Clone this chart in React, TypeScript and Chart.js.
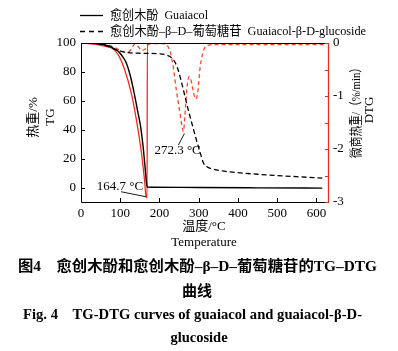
import React, { useEffect, useRef } from "react";
import { Chart, registerables } from "chart.js";

Chart.register(...registerables);

// TG of guaiacol (%)
const tempTgGuaiacol = [0, 30, 50, 70, 85, 95, 105, 115, 125, 135, 145, 152, 158, 163, 167, 169, 180, 300, 450, 615];
const tgGuaiacol = [100, 99.9, 99.3, 98, 96, 94.3, 91, 86.5, 78, 66, 52, 42, 29, 15, 3, 0.3, 0.2, 0, -0.2, -0.4];

// TG of guaiacol-β-D-glucoside (%)
const tempTgGlucoside = [0, 30, 50, 70, 85, 100, 120, 150, 200, 220, 232, 240, 248, 256, 265, 275, 285, 295, 305, 312, 320, 335, 360, 400, 450, 500, 550, 615];
const tgGlucoside = [100, 99.8, 99, 97.5, 95.8, 94.3, 93.3, 92.9, 92.5, 91.5, 89.5, 86.5, 81, 73, 63, 52, 42, 32, 23, 17, 14.5, 12.8, 11.5, 10.3, 9.2, 8.3, 7.5, 6.5];

// DTG of guaiacol (%/min)
const tempDtgGuaiacol = [0, 20, 40, 60, 77, 94, 111, 128, 141, 154, 162, 165, 168.5, 169, 250, 400, 615];
const dtgGuaiacol = [0, -0.01, -0.03, -0.06, -0.09, -0.21, -0.5, -0.94, -1.44, -2.07, -2.6, -2.85, -2.92, 0, 0, 0, 0];

// DTG of guaiacol-β-D-glucoside (%/min)
const tempDtgGlucoside = [0, 40, 70, 90, 105, 118, 128, 137, 145, 155, 163, 172, 185, 200, 215, 222, 228, 235, 243, 251, 257, 261, 265, 270, 276, 281, 287, 293, 298, 303, 310, 320, 340, 400, 500, 625];
const dtgGlucoside = [0, -0.01, -0.04, -0.1, -0.16, -0.18, -0.12, -0.02, -0.06, -0.14, -0.12, -0.03, -0.01, -0.01, -0.02, -0.07, -0.18, -0.45, -0.89, -1.26, -1.55, -1.67, -1.35, -0.85, -0.63, -0.72, -0.95, -1.06, -0.9, -0.5, -0.2, -0.05, -0.03, -0.03, -0.03, -0.03];

const xTicks = [0, 100, 200, 300, 400, 500, 600];
const tgTicks = [0, 20, 40, 60, 80, 100];
const dtgTicks = [0, -1, -2, -3];
const dtgMinorTicks = [-0.5, -1.5, -2.5];

const legendLabels = ["愈创木酚  Guaiacol", "愈创木酚–β–D–葡萄糖苷  Guaiacol-β-D-glucoside"];
const peakLabels = ["164.7 °C", "272.3 °C"];
const leftTitle = ["热重/%", "TG"];
const rightTitle = ["微商热重/（%/min）", "DTG"];
const bottomTitle = ["温度/°C", "Temperature"];
const captionLines = [
  "图4　愈创木酚和愈创木酚–β–D–葡萄糖苷的TG–DTG",
  "曲线",
  "Fig. 4　TG-DTG curves of guaiacol and guaiacol-β-D-",
  "glucoside",
];

const SERIF = '"Liberation Serif", "Times New Roman", "Noto Sans CJK SC", serif';
const RED = "#ee2b22";
const RED_D = "#f0492c";

const pts = (xs: number[], ys: number[]) => xs.map((x, i) => ({ x, y: ys[i] }));

const minPoint = (xs: number[], ys: number[]) => {
  let k = 0;
  ys.forEach((v, i) => {
    if (v < ys[k]) k = i;
  });
  return { x: xs[k], y: ys[k] };
};

// draw text at a given size, squeezed/stretched horizontally to span `width`
// (left-aligned at x, or centred if centre=true); optional rotation -90°
const fillFit = (
  ctx: any,
  text: string,
  x: number,
  y: number,
  width: number,
  size: number,
  weight = "",
  centre = false,
  rotate = false
) => {
  ctx.save();
  ctx.font = `${weight} ${size}px ${SERIF}`;
  const w = ctx.measureText(text).width;
  const k = width / w;
  ctx.translate(x, y);
  if (rotate) ctx.rotate(-Math.PI / 2);
  ctx.scale(k, 1);
  ctx.textAlign = centre ? "center" : "left";
  ctx.fillText(text, 0, 0);
  ctx.restore();
};

const overlay = {
  id: "overlay",
  afterDraw(chart: any) {
    const { ctx, chartArea: a, scales } = chart;
    const sx = scales.x;
    const sy = scales.y;
    const sy1 = scales.y1;
    ctx.save();

    // frame
    ctx.lineWidth = 1;
    ctx.strokeStyle = "#000";
    ctx.beginPath();
    ctx.moveTo(a.right, a.top + 0.5);
    ctx.lineTo(a.left + 0.5, a.top + 0.5);
    ctx.lineTo(a.left + 0.5, a.bottom + 0.5);
    ctx.lineTo(a.right, a.bottom + 0.5);
    ctx.stroke();
    ctx.strokeStyle = RED;
    ctx.lineWidth = 1.3;
    ctx.beginPath();
    ctx.moveTo(a.right - 0.5, a.top);
    ctx.lineTo(a.right - 0.5, a.bottom + 1);
    ctx.stroke();

    // inward ticks
    ctx.strokeStyle = "#000";
    ctx.lineWidth = 1;
    ctx.beginPath();
    xTicks.forEach((v) => {
      const p = Math.round(sx.getPixelForValue(v)) + 0.5;
      ctx.moveTo(p, a.bottom);
      ctx.lineTo(p, a.bottom - 4);
    });
    tgTicks.forEach((v) => {
      const p = Math.round(sy.getPixelForValue(v)) + 0.5;
      ctx.moveTo(a.left, p);
      ctx.lineTo(a.left + 4, p);
    });
    ctx.stroke();
    ctx.strokeStyle = RED;
    ctx.beginPath();
    [...dtgTicks, ...dtgMinorTicks].forEach((v) => {
      const p = Math.round(sy1.getPixelForValue(v)) + 0.5;
      ctx.moveTo(a.right, p);
      ctx.lineTo(a.right - 4, p);
    });
    ctx.stroke();

    // legend
    ctx.fillStyle = "#000";
    ctx.textBaseline = "middle";
    ctx.textAlign = "left";
    ctx.strokeStyle = "#000";
    ctx.lineWidth = 1.3;
    ctx.beginPath();
    ctx.moveTo(80, 15.5);
    ctx.lineTo(103, 15.5);
    ctx.stroke();
    ctx.setLineDash([5, 4]);
    ctx.beginPath();
    ctx.moveTo(80, 31.5);
    ctx.lineTo(104, 31.5);
    ctx.stroke();
    ctx.setLineDash([]);
    fillFit(ctx, legendLabels[0], 110, 16, 98, 13);
    fillFit(ctx, legendLabels[1], 110, 32, 256, 13);

    // peak annotations
    ctx.font = `13px ${SERIF}`;
    ctx.lineWidth = 0.9;
    const m1 = minPoint(tempDtgGuaiacol, dtgGuaiacol);
    const p1x = sx.getPixelForValue(m1.x);
    const p1y = sy1.getPixelForValue(m1.y);
    ctx.beginPath();
    ctx.moveTo(p1x - 26, p1y - 6);
    ctx.lineTo(p1x - 1, p1y - 1);
    ctx.stroke();
    ctx.textAlign = "right";
    ctx.fillText(peakLabels[0], p1x - 4, p1y - 11);

    const m2 = minPoint(tempDtgGlucoside, dtgGlucoside);
    const p2x = sx.getPixelForValue(m2.x);
    const p2y = sy1.getPixelForValue(m2.y);
    ctx.beginPath();
    ctx.moveTo(p2x - 5, p2y + 13.5);
    ctx.lineTo(p2x + 1, p2y + 2);
    ctx.stroke();
    ctx.textAlign = "left";
    ctx.fillText(peakLabels[1], p2x - 29, p2y + 19);

    // axis titles
    ctx.textAlign = "center";
    const vText = (t: string, cx: number, cy: number) => {
      ctx.save();
      ctx.translate(cx, cy);
      ctx.rotate(-Math.PI / 2);
      ctx.fillText(t, 0, 0);
      ctx.restore();
    };
    ctx.font = `13px ${SERIF}`;
    vText(leftTitle[0], 33.5, 117.5);
    vText(leftTitle[1], 50.5, 117);
    fillFit(ctx, rightTitle[0], 356.5, 110, 96, 13, "", true, true);
    ctx.font = `13px ${SERIF}`;
    ctx.textAlign = "center";
    vText(rightTitle[1], 370, 110);
    ctx.fillText(bottomTitle[0], 204, 227);
    ctx.fillText(bottomTitle[1], 204, 243);

    // caption
    fillFit(ctx, captionLines[0], 18, 267, 359, 14.5, "bold");
    fillFit(ctx, captionLines[2], 23, 315, 339, 14.5, "bold");
    ctx.textAlign = "center";
    ctx.font = `bold 15px ${SERIF}`;
    ctx.fillText(captionLines[1], 197, 292);
    ctx.font = `bold 14.5px ${SERIF}`;
    ctx.fillText(captionLines[3], 199, 338);

    ctx.restore();
  },
};

export default function App() {
  const ref = useRef<HTMLCanvasElement | null>(null);

  useEffect(() => {
    if (!ref.current) return;
    const tickFont = { family: SERIF, size: 13 };
    const chart = new Chart(ref.current, {
      type: "line",
      data: {
        datasets: [
          {
            label: "TG guaiacol",
            data: pts(tempTgGuaiacol, tgGuaiacol),
            borderColor: "#000",
            borderWidth: 1.4,
            pointRadius: 0,
            cubicInterpolationMode: "monotone",
            yAxisID: "y",
          },
          {
            label: "TG glucoside",
            data: pts(tempTgGlucoside, tgGlucoside),
            borderColor: "#000",
            borderWidth: 1.3,
            borderDash: [5, 3],
            pointRadius: 0,
            cubicInterpolationMode: "monotone",
            yAxisID: "y",
          },
          {
            label: "DTG guaiacol",
            data: pts(tempDtgGuaiacol, dtgGuaiacol),
            borderColor: RED,
            borderWidth: 1.3,
            pointRadius: 0,
            cubicInterpolationMode: "monotone",
            yAxisID: "y1",
          },
          {
            label: "DTG glucoside",
            data: pts(tempDtgGlucoside, dtgGlucoside),
            borderColor: RED_D,
            borderWidth: 1.3,
            borderDash: [4, 3],
            pointRadius: 0,
            cubicInterpolationMode: "monotone",
            yAxisID: "y1",
          },
        ],
      },
      options: {
        animation: false,
        responsive: false,
        layout: { padding: { top: 43, left: 0, right: 0, bottom: 0 } },
        plugins: { legend: { display: false }, tooltip: { enabled: false }, title: { display: false } },
        scales: {
          x: {
            type: "linear",
            min: 0,
            max: 632,
            grid: { display: false, drawTicks: false },
            border: { display: false },
            ticks: { font: tickFont, color: "#000", padding: 4 },
            afterBuildTicks: (s: any) => {
              s.ticks = xTicks.map((v) => ({ value: v }));
            },
            afterFit: (s: any) => {
              s.height = 149;
            },
          },
          y: {
            type: "linear",
            position: "left",
            min: -10,
            max: 100,
            grid: { display: false, drawTicks: false },
            border: { display: false },
            ticks: { font: tickFont, color: "#000", padding: 5 },
            afterBuildTicks: (s: any) => {
              s.ticks = tgTicks.map((v) => ({ value: v }));
            },
            afterFit: (s: any) => {
              s.width = 81;
            },
          },
          y1: {
            type: "linear",
            position: "right",
            min: -3,
            max: 0,
            grid: { display: false, drawTicks: false },
            border: { display: false },
            ticks: { font: tickFont, color: "#000", padding: 4 },
            afterBuildTicks: (s: any) => {
              s.ticks = dtgTicks.map((v) => ({ value: v }));
            },
            afterFit: (s: any) => {
              s.width = 69;
            },
          },
        },
      },
      plugins: [overlay],
    } as any);
    return () => chart.destroy();
  }, []);

  return (
    <div style={{ position: "absolute", left: 0, top: 0, width: 398, height: 351, background: "#fff" }}>
      <canvas ref={ref} width={398} height={351} style={{ width: 398, height: 351 }} />
    </div>
  );
}
